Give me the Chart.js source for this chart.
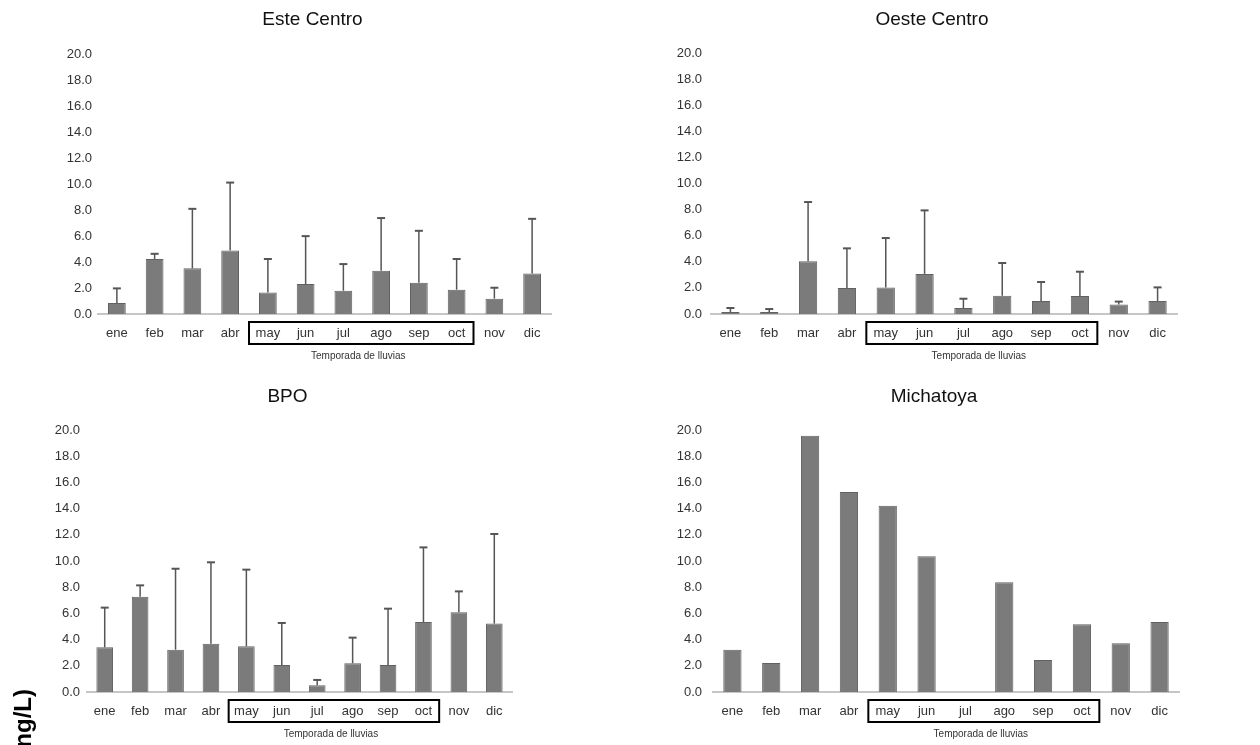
<!DOCTYPE html>
<html>
<head>
  <title>Concentración mensual por sitio</title>
  <style>
    body {
      margin: 0;
      background: #fff;
      width: 1260px;
      height: 745px;
      overflow: hidden;
      font-family: "Liberation Sans", Arial, sans-serif;
    }
    .panel {
      position: absolute;
    }
  </style>
</head>
<body>

  <div class="panel" style="left:40px;top:0px"><canvas id="c1" width="520" height="370"></canvas></div>
  <div class="panel" style="left:660px;top:0px"><canvas id="c2" width="530" height="370"></canvas></div>
  <div class="panel" style="left:0px;top:370px"><canvas id="c3" width="530" height="375"></canvas></div>
  <div class="panel" style="left:660px;top:370px"><canvas id="c4" width="530" height="375"></canvas></div>

  <script src="https://cdn.jsdelivr.net/npm/chart.js"></script>

  <script>
    const months = ["ene", "feb", "mar", "abr", "may", "jun", "jul", "ago", "sep", "oct", "nov", "dic"];
    const yTicks = [0, 2, 4, 6, 8, 10, 12, 14, 16, 18, 20];

    // media y desviacion (solo hacia arriba)
    const esteMean = [0.85, 4.23, 3.51, 4.89, 1.66, 2.30, 1.79, 3.33, 2.41, 1.87, 1.18, 3.12];
    const esteSd   = [1.12, 0.40, 4.58, 5.22, 2.57, 3.69, 2.05, 4.05, 3.99, 2.36, 0.84, 4.20];

    const oesteMean = [0.15, 0.15, 4.04, 1.99, 2.04, 3.07, 0.46, 1.40, 1.00, 1.38, 0.72, 1.00];
    const oesteSd   = [0.31, 0.23, 4.54, 3.04, 3.78, 4.87, 0.71, 2.51, 1.45, 1.86, 0.23, 1.04];

    const bpoMean = [3.41, 7.28, 3.23, 3.69, 3.49, 2.06, 0.51, 2.19, 2.06, 5.34, 6.08, 5.22];
    const bpoSd   = [3.03, 0.86, 6.18, 6.21, 5.85, 3.21, 0.41, 1.96, 4.30, 5.70, 1.60, 6.84];

    const michatoyaMean = [3.23, 2.21, 19.57, 15.27, 14.22, 10.36, null, 8.37, 2.44, 5.17, 3.72, 5.34];

    const rainyFrom = 4;  // may
    const rainyTo = 9;    // oct

    const FONT = '"Liberation Sans", Arial, sans-serif';

    // error bars, recuadro de temporada de lluvias y titulo
    const extras = {
      id: 'extras',
      afterDatasetsDraw(chart, args, opts) {
        const ctx = chart.ctx;
        const x = chart.scales.x;
        const y = chart.scales.y;
        const area = chart.chartArea;
        const meta = chart.getDatasetMeta(0);
        const means = chart.data.datasets[0].data;

        ctx.save();
        if (opts.sd) {
          ctx.strokeStyle = '#555';
          opts.sd.forEach((s, i) => {
            if (!s || means[i] == null) return;
            const px = meta.data[i].x;
            const yb = y.getPixelForValue(means[i]);
            const yt = y.getPixelForValue(means[i] + s);
            ctx.lineWidth = 1.5;
            ctx.beginPath();
            ctx.moveTo(px, yb);
            ctx.lineTo(px, yt);
            ctx.stroke();
            ctx.lineWidth = 2;
            ctx.beginPath();
            ctx.moveTo(px - 4, yt);
            ctx.lineTo(px + 4, yt);
            ctx.stroke();
          });
        }

        // recuadro may-oct
        const half = (x.getPixelForValue(1) - x.getPixelForValue(0)) / 2;
        const bx0 = x.getPixelForValue(rainyFrom) - half;
        const bx1 = x.getPixelForValue(rainyTo) + half - 2;
        ctx.strokeStyle = '#000';
        ctx.lineWidth = 2;
        ctx.strokeRect(bx0, area.bottom + 8, bx1 - bx0, 22);

        ctx.fillStyle = '#333';
        ctx.font = '10px ' + FONT;
        ctx.textAlign = 'center';
        ctx.textBaseline = 'middle';
        ctx.fillText('Temporada de lluvias', (bx0 + bx1) / 2 - 3, area.bottom + 42);

        // titulo
        ctx.fillStyle = '#111';
        ctx.font = '19px ' + FONT;
        ctx.fillText(opts.title, (area.left + area.right) / 2 - 12, opts.titleY);

        if (opts.yLabel) {
          ctx.translate(24, 319);
          ctx.rotate(-Math.PI / 2);
          ctx.font = 'bold 24px ' + FONT;
          ctx.textAlign = 'right';
          ctx.fillStyle = '#000';
          ctx.fillText(opts.yLabel, 0, 0);
        }
        ctx.restore();
      }
    };

    function makePanel(id, title, means, sd, g) {
      return new Chart(document.getElementById(id), {
        type: 'bar',
        data: {
          labels: months,
          datasets: [{
            data: means,
            backgroundColor: '#7b7b7b',
            borderColor: '#616161',
            borderWidth: 1,
            barPercentage: 0.47,
            categoryPercentage: 1.0
          }]
        },
        options: {
          responsive: false,
          animation: false,
          events: [],
          layout: { padding: { top: g.top, right: g.right, left: 0, bottom: 0 } },
          plugins: {
            legend: { display: false },
            tooltip: { enabled: false },
            extras: { sd: sd, title: title, titleY: g.titleY, yLabel: g.yLabel }
          },
          scales: {
            x: {
              grid: { display: false, drawTicks: false },
              border: { display: true, color: '#c6c6c6', width: 2 },
              ticks: {
                color: '#333',
                font: { family: FONT, size: 13 },
                padding: 12,
                maxRotation: 0,
                autoSkip: false
              },
              afterFit: s => { s.height = g.xHeight; }
            },
            y: {
              min: 0,
              max: 20,
              grid: { display: false, drawTicks: false },
              border: { display: false },
              afterBuildTicks: s => { s.ticks = yTicks.map(v => ({ value: v })); },
              ticks: {
                color: '#333',
                font: { family: FONT, size: 13 },
                padding: g.tickPad,
                callback: v => Number(v).toFixed(1)
              },
              afterFit: s => { s.width = g.yWidth; }
            }
          }
        },
        plugins: [extras]
      });
    }

    makePanel('c1', 'Este Centro', esteMean, esteSd,
      { yWidth: 58, right: 9, top: 54, xHeight: 56, tickPad: 6, titleY: 20 });
    makePanel('c2', 'Oeste Centro', oesteMean, oesteSd,
      { yWidth: 51, right: 13, top: 53, xHeight: 56, tickPad: 9, titleY: 20 });
    makePanel('c3', 'BPO', bpoMean, bpoSd,
      { yWidth: 87, right: 18, top: 60, xHeight: 53, tickPad: 7, titleY: 27, yLabel: 'Concentración (ng/L)' });
    makePanel('c4', 'Michatoya', michatoyaMean, null,
      { yWidth: 53, right: 11, top: 60, xHeight: 53, tickPad: 11, titleY: 27 });
  </script>

</body>
</html>
